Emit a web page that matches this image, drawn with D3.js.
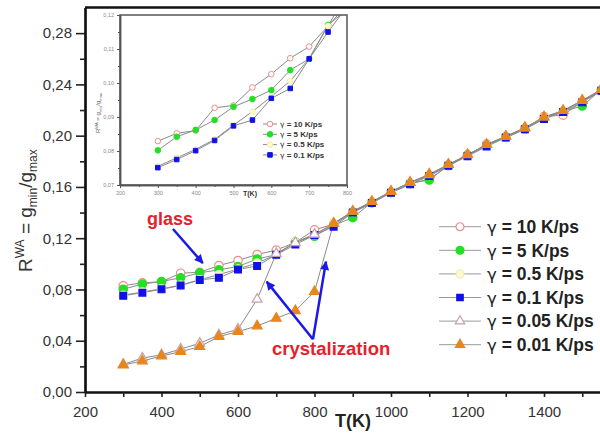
<!DOCTYPE html>
<html>
<head>
<meta charset="utf-8">
<script src="https://cdn.jsdelivr.net/npm/d3@7"></script>
<style>
  body { margin: 0; background: #fff; }
  svg { display: block; font-family: "Liberation Sans", Arial, sans-serif; }
</style>
</head>
<body>
<div id="chart"></div>
<script>
// temperatures (K)
const temps = [300, 350, 400, 450, 500, 550, 600, 650, 700, 750, 800, 850, 900,
  950, 1000, 1050, 1100, 1150, 1200, 1250, 1300, 1350, 1400, 1450, 1500, 1550];

// R^WA for each cooling rate
const rate10 = [0.0829, 0.0852, 0.0860, 0.0927, 0.0934, 0.0987, 0.1026, 0.1073, 0.1107, 0.1168, 0.1265, 0.1310, 0.1400,
  0.1475, 0.1555, 0.1625, 0.1660, 0.1765, 0.1845, 0.1935, 0.1985, 0.2050, 0.2150, 0.2160, 0.2265, 0.2350];
const rate5 = [0.0802, 0.0842, 0.0862, 0.0891, 0.0930, 0.0953, 0.0979, 0.1038, 0.1071, 0.1171, 0.1215, 0.1300, 0.1360,
  0.1480, 0.1560, 0.1630, 0.1654, 0.1770, 0.1850, 0.1925, 0.1990, 0.2055, 0.2135, 0.2190, 0.2231, 0.2360];
const rate05 = [0.0755, 0.0780, 0.0805, 0.0834, 0.0876, 0.0916, 0.0960, 0.1006, 0.1072, 0.1168, 0.1230, 0.1305, 0.1405,
  0.1480, 0.1560, 0.1630, 0.1690, 0.1770, 0.1845, 0.1925, 0.1990, 0.2055, 0.2140, 0.2190, 0.2270, 0.2355];
const rate01 = [0.0751, 0.0775, 0.0801, 0.0831, 0.0874, 0.0891, 0.0955, 0.0984, 0.1071, 0.1150, 0.1225, 0.1290, 0.1400,
  0.1475, 0.1555, 0.1620, 0.1685, 0.1765, 0.1840, 0.1915, 0.1985, 0.2050, 0.2130, 0.2185, 0.2260, 0.2350];
const rate005 = [0.0215, 0.0265, 0.0290, 0.0335, 0.0380, 0.0445, 0.0490, 0.0723, 0.1080, 0.1165, 0.1230, 0.1315, 0.1410,
  0.1485, 0.1565, 0.1635, 0.1695, 0.1775, 0.1850, 0.1930, 0.1995, 0.2060, 0.2145, 0.2195, 0.2275, 0.2360];
const rate001 = [0.0211, 0.0242, 0.0281, 0.0315, 0.0354, 0.0432, 0.0471, 0.0515, 0.0575, 0.0634, 0.0783, 0.1316, 0.1410,
  0.1485, 0.1565, 0.1635, 0.1700, 0.1775, 0.1852, 0.1930, 0.1995, 0.2062, 0.2145, 0.2195, 0.2275, 0.2360];

// legend text after the "γ"
const seriesLabels = [' = 10 K/ps', ' = 5 K/ps', ' = 0.5 K/ps', ' = 0.1 K/ps', ' = 0.05 K/ps', ' = 0.01 K/ps'];

const xTicks = [200, 400, 600, 800, 1000, 1200, 1400];
const xMinorTicks = [300, 500, 700, 900, 1100, 1300, 1500];
const yTicks = [0, 0.04, 0.08, 0.12, 0.16, 0.20, 0.24, 0.28];
const yMinorTicks = [0.02, 0.06, 0.10, 0.14, 0.18, 0.22, 0.26];
const insetXTicks = [200, 300, 400, 500, 600, 700, 800];
const insetXMinor = [250, 350, 450, 550, 650, 750];
const insetYTicks = [0.07, 0.08, 0.09, 0.10, 0.11, 0.12];
const insetYMinor = [0.075, 0.085, 0.095, 0.105, 0.115];

const W = 600, H = 434;

const series = [
  { name: seriesLabels[0], values: rate10, shape: d3.symbolCircle, size: 55, fill: '#fff', stroke: '#f08c8c' },
  { name: seriesLabels[1], values: rate5, shape: d3.symbolCircle, size: 55, fill: '#22e022', stroke: '#22e022' },
  { name: seriesLabels[2], values: rate05, shape: d3.symbolCircle, size: 55, fill: '#fbfbcc', stroke: '#efefb8' },
  { name: seriesLabels[3], values: rate01, shape: d3.symbolSquare, size: 46, fill: '#1010e8', stroke: '#1010e8' },
  { name: seriesLabels[4], values: rate005, shape: d3.symbolTriangle, size: 42, fill: '#fff', stroke: '#c8a0a8' },
  { name: seriesLabels[5], values: rate001, shape: d3.symbolTriangle, size: 42, fill: '#e8861a', stroke: '#e8861a' }
];

const svg = d3.select('#chart').append('svg')
  .attr('width', W).attr('height', H);

const x = d3.scaleLinear().domain([200, 1600]).range([85, 620.5]);
const y = d3.scaleLinear().domain([0, 0.30]).range([392, 7.5]);
const comma = v => d3.format('.2f')(v).replace('.', ',');

// axes
svg.append('g').attr('transform', `translate(0,${y(0)})`)
  .call(d3.axisBottom(x).tickValues(xTicks).tickSize(5).tickPadding(9).tickFormat(d3.format('d')).tickSizeOuter(0));
svg.append('g').attr('transform', `translate(0,${y(0)})`)
  .call(d3.axisBottom(x).tickValues(xMinorTicks).tickSize(5).tickFormat('').tickSizeOuter(0));
svg.append('g').attr('transform', `translate(${x(200)},0)`)
  .call(d3.axisLeft(y).tickValues(yTicks).tickSize(9).tickPadding(4).tickFormat(comma).tickSizeOuter(0));
svg.append('g').attr('transform', `translate(${x(200)},0)`)
  .call(d3.axisLeft(y).tickValues(yMinorTicks).tickSize(5).tickFormat('').tickSizeOuter(0));

svg.selectAll('.domain').attr('stroke', '#111').attr('stroke-width', 2.2);
svg.selectAll('.tick line').attr('stroke', '#222').attr('stroke-width', 1.6);
svg.selectAll('.tick text').attr('font-size', 15).attr('fill', '#333')
  .attr('font-family', '"Liberation Sans", Arial, sans-serif');

// top frame
svg.append('line')
  .attr('x1', x(200)).attr('x2', x(1600)).attr('y1', y(0.30)).attr('y2', y(0.30))
  .attr('stroke', '#111').attr('stroke-width', 2.4);

// axis titles
svg.append('text').attr('x', 353).attr('y', 427).attr('text-anchor', 'middle')
  .attr('font-size', 18).attr('font-weight', 'bold').attr('fill', '#222').text('T(K)');

const yt = svg.append('text').attr('transform', 'translate(32,272) rotate(-90)')
  .attr('font-size', 19).attr('fill', '#333');
yt.append('tspan').text('R');
yt.append('tspan').attr('font-size', 12).attr('dy', -8).text('WA');
yt.append('tspan').attr('dy', 8).text(' = g');
yt.append('tspan').attr('font-size', 12).attr('dy', 5).text('min');
yt.append('tspan').attr('dy', -5).text('/g');
yt.append('tspan').attr('font-size', 12).attr('dy', 5).text('max');

// series lines and markers
const line = d3.line().x((d, i) => x(temps[i])).y(d => y(d));
series.forEach(s => {
  svg.append('path').datum(s.values).attr('d', line)
    .attr('fill', 'none').attr('stroke', '#8a8a8a').attr('stroke-width', 1);
});
series.forEach(s => {
  svg.append('g').selectAll('path').data(s.values).join('path')
    .attr('transform', (d, i) => `translate(${x(temps[i])},${y(d)})`)
    .attr('d', d3.symbol().type(s.shape).size(s.size))
    .attr('fill', s.fill).attr('stroke', s.stroke).attr('stroke-width', 1.2);
});

// legend label with a greek gamma
function gammaLabel(sel, text, size, weight) {
  sel.append('tspan').attr('font-family', '"DejaVu Sans", sans-serif')
    .attr('font-weight', 'normal').attr('font-size', size * 0.95).text('γ');
  sel.append('tspan').attr('font-weight', weight).text(text);
}

const legend = svg.append('g');
series.forEach((s, i) => {
  const ly = 226.7 + i * 23.6;
  legend.append('line').attr('x1', 439).attr('x2', 481).attr('y1', ly).attr('y2', ly)
    .attr('stroke', '#9a9a9a').attr('stroke-width', 1);
  legend.append('path').attr('transform', `translate(460,${ly})`)
    .attr('d', d3.symbol().type(s.shape).size(s.size * 0.9))
    .attr('fill', s.fill).attr('stroke', s.stroke).attr('stroke-width', 1.2);
  const t = legend.append('text').attr('x', 487).attr('y', ly).attr('dy', '0.36em')
    .attr('font-size', 17.5).attr('fill', '#222');
  gammaLabel(t, s.name, 17.5, 'bold');
});

// annotations
const blue = '#1a1ae6', red = '#e8202c';
svg.append('defs').append('marker').attr('id', 'arrow')
  .attr('viewBox', '0 0 10 10').attr('refX', 9).attr('refY', 5)
  .attr('markerWidth', 4.2).attr('markerHeight', 3.6).attr('orient', 'auto')
  .append('path').attr('d', 'M0,0L10,5L0,10z').attr('fill', blue);

svg.append('text').attr('x', x(362)).attr('y', y(0.1303))
  .attr('font-size', 18).attr('font-weight', 'bold').attr('fill', red).text('glass');
svg.append('text').attr('x', x(689)).attr('y', y(0.0289))
  .attr('font-size', 18.5).attr('font-weight', 'bold').attr('fill', red).text('crystalization');

const arrows = [
  [[430, 0.1272], [508, 0.1006]],
  [[796, 0.0411], [675, 0.0861]],
  [[796, 0.0411], [830, 0.1017]]
];
arrows.forEach(a => {
  svg.append('line')
    .attr('x1', x(a[0][0])).attr('y1', y(a[0][1]))
    .attr('x2', x(a[1][0])).attr('y2', y(a[1][1]))
    .attr('stroke', blue).attr('stroke-width', 2.5).attr('marker-end', 'url(#arrow)');
});

// inset
const ix = d3.scaleLinear().domain([200, 800]).range([120, 347]);
const iy = d3.scaleLinear().domain([0.07, 0.12]).range([185, 15]);
const inset = svg.append('g');
inset.append('rect').attr('x', 120).attr('y', 15).attr('width', 227).attr('height', 170).attr('fill', '#fff');

inset.append('defs').append('clipPath').attr('id', 'insetClip')
  .append('rect').attr('x', 120).attr('y', 15).attr('width', 227).attr('height', 170);

const insetData = series.slice(0, 4);
const iline = d3.line().x((d, i) => ix(temps[i])).y(d => iy(d));
const plotArea = inset.append('g').attr('clip-path', 'url(#insetClip)');
insetData.forEach(s => {
  plotArea.append('path').datum(s.values.slice(0, 11)).attr('d', iline)
    .attr('fill', 'none').attr('stroke', '#8a8a8a').attr('stroke-width', 1);
});
insetData.forEach(s => {
  plotArea.append('g').selectAll('path').data(s.values.slice(0, 11)).join('path')
    .attr('transform', (d, i) => `translate(${ix(temps[i])},${iy(d)})`)
    .attr('d', d3.symbol().type(s.shape).size(s.size * 0.45))
    .attr('fill', s.fill).attr('stroke', s.stroke).attr('stroke-width', 1);
});

inset.append('g').attr('transform', 'translate(0,185)')
  .call(d3.axisBottom(ix).tickValues(insetXTicks).tickSize(3).tickPadding(3).tickFormat(d3.format('d')).tickSizeOuter(0));
inset.append('g').attr('transform', 'translate(0,185)')
  .call(d3.axisBottom(ix).tickValues(insetXMinor).tickSize(2).tickFormat('').tickSizeOuter(0));
inset.append('g').attr('transform', 'translate(120,0)')
  .call(d3.axisLeft(iy).tickValues(insetYTicks).tickSize(3).tickPadding(3).tickFormat(comma).tickSizeOuter(0));
inset.append('g').attr('transform', 'translate(120,0)')
  .call(d3.axisLeft(iy).tickValues(insetYMinor).tickSize(2).tickFormat('').tickSizeOuter(0));
inset.selectAll('.domain').attr('stroke', '#555').attr('stroke-width', 1.5);
inset.selectAll('.tick line').attr('stroke', '#555').attr('stroke-width', 1);
inset.selectAll('.tick text').attr('font-size', 5.5).attr('fill', '#888')
  .attr('font-family', '"Liberation Sans", Arial, sans-serif');

inset.append('rect').attr('x', 120).attr('y', 15).attr('width', 227).attr('height', 170)
  .attr('fill', 'none').attr('stroke', '#555').attr('stroke-width', 1.5);

inset.append('text').attr('x', 250).attr('y', 196).attr('text-anchor', 'middle')
  .attr('font-size', 7).attr('font-weight', 'bold').attr('fill', '#333').text('T(K)');
const iyt = inset.append('text').attr('transform', 'translate(100,133) rotate(-90)')
  .attr('font-size', 6).attr('fill', '#666');
iyt.append('tspan').text('R');
iyt.append('tspan').attr('font-size', 4).attr('dy', -2.5).text('WA');
iyt.append('tspan').attr('dy', 2.5).text(' = g');
iyt.append('tspan').attr('font-size', 4).attr('dy', 1.5).text('min');
iyt.append('tspan').attr('dy', -1.5).text('/g');
iyt.append('tspan').attr('font-size', 4).attr('dy', 1.5).text('max');

insetData.forEach((s, i) => {
  const ly = 124 + i * 10.3;
  inset.append('line').attr('x1', 263).attr('x2', 277).attr('y1', ly).attr('y2', ly)
    .attr('stroke', '#8a8a8a').attr('stroke-width', 1);
  inset.append('path').attr('transform', `translate(270,${ly})`)
    .attr('d', d3.symbol().type(s.shape).size(s.size * 0.45))
    .attr('fill', s.fill).attr('stroke', s.stroke).attr('stroke-width', 1);
  const t = inset.append('text').attr('x', 280).attr('y', ly).attr('dy', '0.36em')
    .attr('font-size', 8).attr('fill', '#333');
  gammaLabel(t, s.name, 8, 'bold');
});
</script>
</body>
</html>
